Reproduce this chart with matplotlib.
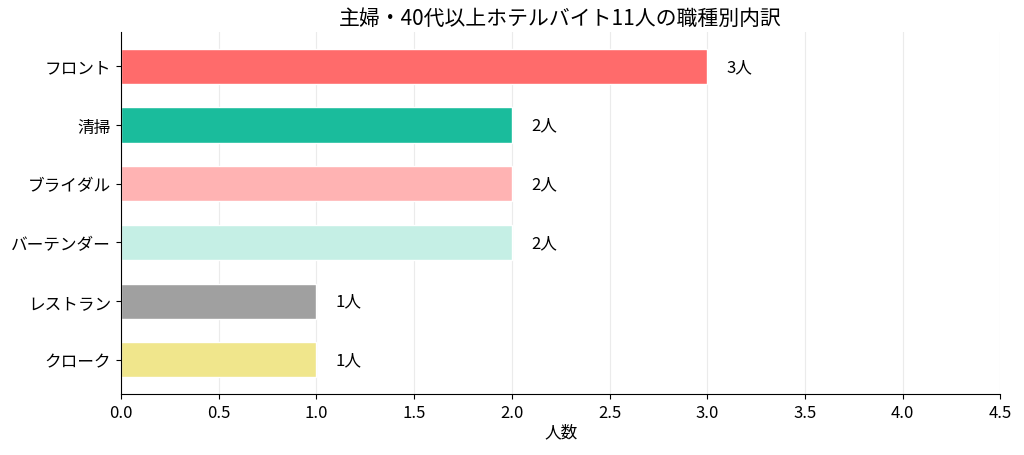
import matplotlib
matplotlib.use("Agg")
import matplotlib.pyplot as plt

plt.rcParams['font.family'] = ['Noto Sans CJK JP', 'DejaVu Sans']

# data
jobs = ["フロント", "清掃", "ブライダル", "バーテンダー", "レストラン", "クローク"]
counts = [3, 2, 2, 2, 1, 1]
colors = ["#FF6B6B", "#1ABC9C", "#FFB3B3", "#C5EFE5", "#A0A0A0", "#F0E68C"]

fig, ax = plt.subplots(figsize=(10.24, 4.56), dpi=100)
ypos = list(range(len(jobs)))
ax.barh(ypos, counts, height=0.6, color=colors, edgecolor="white", linewidth=1)
ax.set_yticks(ypos)
ax.set_yticklabels(jobs, fontsize=12)
ax.invert_yaxis()

for y, c in zip(ypos, counts):
    ax.text(c + 0.1, y, f"{c}人", va="center", ha="left", fontsize=12)

ax.set_xlim(0, 4.5)
ax.set_xlabel("人数", fontsize=12, labelpad=2)
ax.set_title("主婦・40代以上ホテルバイト11人の職種別内訳", fontsize=15, pad=6)
ax.tick_params(axis="x", labelsize=12)
ax.grid(axis="x", color="#ebebeb", linewidth=0.8)
ax.set_axisbelow(True)
ax.spines["top"].set_visible(False)
ax.spines["right"].set_visible(False)

plt.subplots_adjust(left=0.118, right=0.977, top=0.927, bottom=0.134)
plt.savefig("out.png")
